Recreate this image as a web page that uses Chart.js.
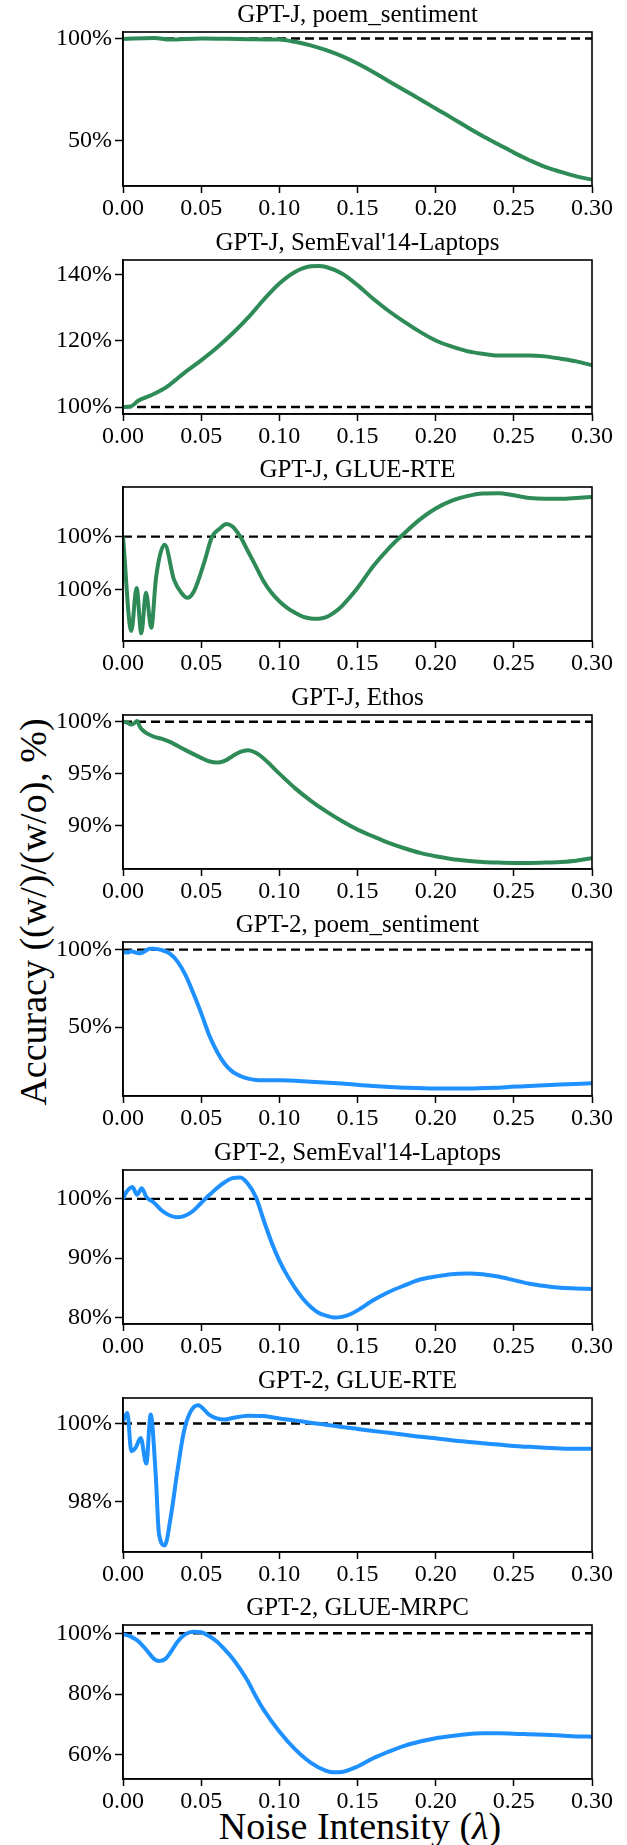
<!DOCTYPE html>
<html>
<head>
<meta charset="utf-8">
<script src="https://cdn.jsdelivr.net/npm/chart.js@4/dist/chart.umd.min.js"></script>
<style>
  body { margin: 0; background: #fff; }
  #wrap { position: relative; width: 627px; height: 1845px; font-family: "Liberation Serif", serif; color: #000; }
  #wrap canvas { position: absolute; left: 0; }
  .ylab { position: absolute; left: 33px; top: 912px; transform: translate(-50%, -50%) rotate(-90deg); font-size: 38px; white-space: nowrap; }
  .xlab { position: absolute; left: 360px; top: 1826px; transform: translate(-50%, -50%); font-size: 38px; white-space: nowrap; }
</style>
</head>
<body>
<div id="wrap">
  <div class="ylab">Accuracy ((w/)/(w/o), %)</div>
  <div class="xlab">Noise Intensity (<i>λ</i>)</div>
</div>
<script>
const GREEN = "#2e8b57";
const BLUE = "#1e90ff";

const xTicks = [0, 0.05, 0.1, 0.15, 0.2, 0.25, 0.3];
const baseline = 100;

// GPT-J, poem_sentiment
const gptjPoemX = [0, 0.02, 0.03, 0.05, 0.08, 0.10, 0.11, 0.12, 0.13, 0.14, 0.15, 0.16, 0.17, 0.18, 0.19, 0.20, 0.21, 0.22, 0.23, 0.24, 0.25, 0.26, 0.27, 0.28, 0.29, 0.30];
const gptjPoemY = [99.8, 100.3, 99.5, 100, 99.7, 99.5, 98.4, 96.7, 94.3, 91.4, 87.8, 83.7, 79.2, 74.8, 70.4, 65.8, 61.4, 56.8, 52.4, 48.4, 44.3, 40.6, 37.3, 34.9, 32.7, 31.1];

// GPT-J, SemEval'14-Laptops
const gptjLapX = [0, 0.005, 0.01, 0.015, 0.02, 0.025, 0.03, 0.04, 0.05, 0.06, 0.07, 0.08, 0.09, 0.10, 0.11, 0.12, 0.125, 0.13, 0.14, 0.15, 0.16, 0.17, 0.18, 0.19, 0.20, 0.21, 0.22, 0.23, 0.24, 0.25, 0.26, 0.27, 0.28, 0.29, 0.30];
const gptjLapY = [100, 100.2, 102, 103, 104, 105.2, 106.8, 110.6, 114.1, 117.9, 122.2, 127, 132.4, 137.3, 140.8, 142.5, 142.6, 142.3, 140.3, 136.8, 132.7, 129, 125.7, 122.7, 120.1, 118.3, 116.9, 116.1, 115.6, 115.6, 115.6, 115.3, 114.6, 113.8, 112.6];

// GPT-J, GLUE-RTE
const gptjRteX = [0, 0.0053, 0.0087, 0.0117, 0.0147, 0.0181, 0.021, 0.024, 0.0267, 0.0326, 0.0373, 0.0411, 0.0454, 0.0518, 0.057, 0.062, 0.066, 0.07, 0.075, 0.08, 0.085, 0.09, 0.095, 0.10, 0.105, 0.11, 0.115, 0.12, 0.125, 0.13, 0.135, 0.14, 0.15, 0.16, 0.17, 0.18, 0.19, 0.20, 0.21, 0.22, 0.23, 0.24, 0.25, 0.26, 0.27, 0.28, 0.29, 0.30];
const gptjRteY = [100.0, 99.644, 99.806, 99.635, 99.788, 99.656, 99.838, 99.938, 99.969, 99.838, 99.788, 99.769, 99.794, 99.9, 100.0, 100.031, 100.048, 100.038, 100.0, 99.944, 99.888, 99.831, 99.788, 99.756, 99.731, 99.713, 99.698, 99.691, 99.69, 99.696, 99.713, 99.738, 99.806, 99.888, 99.956, 100.013, 100.065, 100.106, 100.135, 100.153, 100.163, 100.164, 100.156, 100.146, 100.143, 100.143, 100.146, 100.15];

// GPT-J, Ethos
const gptjEthosX = [0, 0.003, 0.005, 0.007, 0.009, 0.011, 0.013, 0.015, 0.02, 0.025, 0.03, 0.04, 0.05, 0.055, 0.06, 0.065, 0.07, 0.075, 0.08, 0.085, 0.09, 0.10, 0.11, 0.12, 0.13, 0.14, 0.15, 0.16, 0.17, 0.18, 0.19, 0.20, 0.21, 0.22, 0.23, 0.24, 0.25, 0.26, 0.27, 0.28, 0.29, 0.30];
const gptjEthosY = [100, 99.9, 99.74, 99.84, 100.06, 99.45, 99.13, 98.9, 98.55, 98.35, 98.06, 97.26, 96.52, 96.19, 96.06, 96.23, 96.68, 97.1, 97.26, 97.0, 96.45, 95.0, 93.6, 92.4, 91.35, 90.42, 89.6, 88.94, 88.32, 87.8, 87.35, 87.03, 86.77, 86.6, 86.48, 86.42, 86.39, 86.39, 86.42, 86.48, 86.6, 86.84];

// GPT-2, poem_sentiment
const gpt2PoemX = [0, 0.003, 0.005, 0.008, 0.011, 0.014, 0.017, 0.02, 0.025, 0.03, 0.035, 0.04, 0.045, 0.05, 0.055, 0.06, 0.065, 0.07, 0.075, 0.08, 0.085, 0.09, 0.10, 0.12, 0.14, 0.16, 0.18, 0.20, 0.22, 0.24, 0.26, 0.28, 0.30];
const gpt2PoemY = [98.5, 98.1, 98.9, 98.1, 97.6, 98.9, 100.6, 100.6, 99.6, 97.4, 92.1, 83.5, 71.8, 59, 45.1, 34.4, 26.3, 21.2, 18.4, 16.7, 15.8, 15.6, 15.6, 14.7, 13.5, 12, 10.9, 10.3, 10.3, 10.9, 12, 13, 13.7];

// GPT-2, SemEval'14-Laptops
const gpt2LapX = [0, 0.002, 0.004, 0.006, 0.009, 0.012, 0.015, 0.018, 0.02, 0.025, 0.03, 0.035, 0.04, 0.045, 0.05, 0.055, 0.06, 0.065, 0.07, 0.075, 0.08, 0.085, 0.09, 0.095, 0.10, 0.105, 0.11, 0.115, 0.12, 0.125, 0.13, 0.135, 0.14, 0.145, 0.15, 0.16, 0.17, 0.18, 0.19, 0.20, 0.21, 0.22, 0.23, 0.24, 0.25, 0.26, 0.27, 0.28, 0.29, 0.30];
const gpt2LapY = [100, 101.1, 101.7, 102, 100.7, 101.8, 100.3, 99.7, 99.3, 98.0, 97.2, 96.9, 97.2, 98, 99.3, 100.6, 101.8, 102.8, 103.5, 103.6, 102.5, 100.3, 96.4, 92.7, 89.6, 87.1, 85, 83.2, 81.8, 80.8, 80.3, 80, 80.1, 80.5, 81.2, 82.9, 84.3, 85.4, 86.4, 86.9, 87.3, 87.4, 87.3, 86.9, 86.3, 85.7, 85.3, 85, 84.9, 84.8];

// GPT-2, GLUE-RTE
const gpt2RteX = [0, 0.0028, 0.0053, 0.0081, 0.0113, 0.0149, 0.0177, 0.0209, 0.023, 0.0267, 0.0305, 0.0348, 0.039, 0.0433, 0.048, 0.055, 0.06, 0.065, 0.07, 0.08, 0.09, 0.10, 0.11, 0.12, 0.13, 0.14, 0.15, 0.16, 0.17, 0.18, 0.19, 0.20, 0.21, 0.22, 0.23, 0.24, 0.25, 0.26, 0.27, 0.28, 0.29, 0.30];
const gpt2RteY = [100.06, 100.27, 99.29, 99.38, 99.63, 98.97, 100.23, 98.7, 97.17, 96.87, 97.59, 98.78, 99.8, 100.31, 100.47, 100.23, 100.13, 100.1, 100.14, 100.2, 100.19, 100.13, 100.08, 100.02, 99.97, 99.91, 99.86, 99.81, 99.76, 99.71, 99.66, 99.62, 99.57, 99.53, 99.49, 99.46, 99.42, 99.4, 99.38, 99.36, 99.35, 99.35];

// GPT-2, GLUE-MRPC
const gpt2MrpcX = [0, 0.005, 0.01, 0.015, 0.02, 0.023, 0.027, 0.03, 0.035, 0.04, 0.045, 0.05, 0.055, 0.06, 0.065, 0.07, 0.075, 0.08, 0.085, 0.09, 0.10, 0.11, 0.12, 0.13, 0.135, 0.14, 0.15, 0.16, 0.17, 0.18, 0.19, 0.20, 0.21, 0.22, 0.23, 0.24, 0.25, 0.26, 0.27, 0.28, 0.29, 0.30];
const gpt2MrpcY = [99.7, 98.9, 97.3, 94.5, 91.5, 90.9, 91.5, 93.4, 97.3, 99.7, 100.5, 100.3, 99.1, 97.3, 94.7, 91.8, 88.2, 84.1, 79.2, 74.8, 67.7, 61.9, 57.5, 54.8, 54.3, 54.4, 56.2, 58.9, 61.1, 63, 64.4, 65.5, 66.2, 66.8, 67.1, 67.1, 67, 66.8, 66.6, 66.4, 66.1, 66];

const panels = [
  { title: "GPT-J, poem_sentiment", x: gptjPoemX, y: gptjPoemY, color: GREEN, min: 28, max: 103.2, ticks: [50, 100] },
  { title: "GPT-J, SemEval'14-Laptops", x: gptjLapX, y: gptjLapY, color: GREEN, min: 97.9, max: 144.4, ticks: [100, 120, 140] },
  { title: "GPT-J, GLUE-RTE", x: gptjRteX, y: gptjRteY, color: GREEN, min: 99.606, max: 100.1875, ticks: [99.8, 100] },
  { title: "GPT-J, Ethos", x: gptjEthosX, y: gptjEthosY, color: GREEN, min: 85.8, max: 100.65, ticks: [90, 95, 100] },
  { title: "GPT-2, poem_sentiment", x: gpt2PoemX, y: gpt2PoemY, color: BLUE, min: 5.5, max: 104.9, ticks: [50, 100] },
  { title: "GPT-2, SemEval'14-Laptops", x: gpt2LapX, y: gpt2LapY, color: BLUE, min: 78.9, max: 104.87, ticks: [80, 90, 100] },
  { title: "GPT-2, GLUE-RTE", x: gpt2RteX, y: gpt2RteY, color: BLUE, min: 96.7, max: 100.655, ticks: [98, 100] },
  { title: "GPT-2, GLUE-MRPC", x: gpt2MrpcX, y: gpt2MrpcY, color: BLUE, min: 52.1, max: 102.7, ticks: [60, 80, 100] },
];

const FONT = '"Liberation Serif", serif';

// title above each panel + black frame round the plot area
const panelDecor = {
  id: "panelDecor",
  afterDraw(chart, args, opts) {
    const { ctx, chartArea: a } = chart;
    ctx.save();
    ctx.strokeStyle = "#000";
    ctx.lineWidth = 1.6;
    ctx.strokeRect(a.left, a.top, a.right - a.left, a.bottom - a.top);
    ctx.fillStyle = "#000";
    ctx.font = `25px ${FONT}`;
    ctx.textAlign = "center";
    ctx.textBaseline = "middle";
    ctx.fillText(opts.text, (a.left + a.right) / 2, 15);
    ctx.restore();
  },
};

function makePanel(p, i) {
  const canvas = document.createElement("canvas");
  canvas.width = 627;
  canvas.height = 227;
  canvas.style.top = Math.round(i * 227.6) + "px";
  document.getElementById("wrap").appendChild(canvas);

  const pts = p.x.map((x, k) => ({ x, y: p.y[k] }));
  const ref = [{ x: xTicks[0], y: baseline }, { x: xTicks[xTicks.length - 1], y: baseline }];

  return new Chart(canvas, {
    type: "line",
    data: {
      datasets: [
        { data: pts, borderColor: p.color, borderWidth: 4, pointRadius: 0, cubicInterpolationMode: "monotone" },
        { data: ref, borderColor: "#000", borderWidth: 2.4, borderDash: [9, 5], pointRadius: 0 },
      ],
    },
    plugins: [panelDecor],
    options: {
      responsive: false,
      animation: false,
      events: [],
      layout: { padding: { top: 32, right: 35, left: 0, bottom: 0 } },
      plugins: {
        legend: { display: false },
        tooltip: { enabled: false },
        panelDecor: { text: p.title },
      },
      scales: {
        x: {
          type: "linear",
          min: 0,
          max: 0.3,
          afterBuildTicks: (s) => { s.ticks = xTicks.map((v) => ({ value: v })); },
          afterFit: (s) => { s.height = 41; },
          ticks: { color: "#000", font: { family: FONT, size: 24 }, padding: 1, maxRotation: 0, callback: (v) => v.toFixed(2) },
          grid: { drawOnChartArea: false, drawTicks: true, tickLength: 7, color: "#000", tickWidth: 1.5 },
          border: { display: true, color: "#000", width: 1.6 },
        },
        y: {
          min: p.min,
          max: p.max,
          afterBuildTicks: (s) => { s.ticks = p.ticks.map((v) => ({ value: v })); },
          afterFit: (s) => { s.width = 123; },
          ticks: { color: "#000", font: { family: FONT, size: 24 }, padding: 3, callback: (v) => v.toFixed(0) + "%" },
          grid: { drawOnChartArea: false, drawTicks: true, tickLength: 8, color: "#000", tickWidth: 1.5 },
          border: { display: true, color: "#000", width: 1.6 },
        },
      },
    },
  });
}

window.addEventListener("load", () => {
  panels.forEach(makePanel);
});
</script>
</body>
</html>
